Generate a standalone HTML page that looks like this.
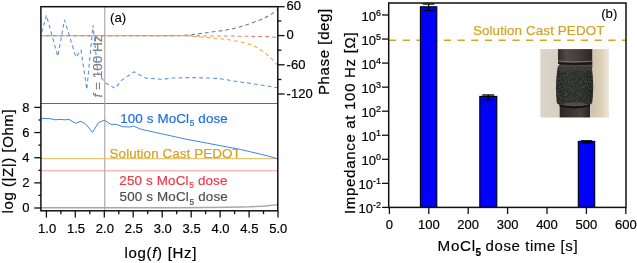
<!DOCTYPE html>
<html><head><meta charset="utf-8">
<style>
html,body{margin:0;padding:0;background:#fff;width:637px;height:263px;overflow:hidden;}
svg{display:block;-webkit-font-smoothing:antialiased;will-change:transform;font-family:"Liberation Sans",sans-serif;}
</style></head>
<body>
<svg width="637" height="263" viewBox="0 0 637 263">
<rect x="0" y="0" width="637" height="263" fill="#fff"/>

<!-- ===== LEFT CHART ===== -->
<!-- separator + f=100Hz line -->
<line x1="41" y1="103.5" x2="278" y2="103.5" stroke="#6a6a6a" stroke-width="1"/>
<line x1="104.8" y1="6.7" x2="104.8" y2="210.8" stroke="#9a9a9a" stroke-width="1"/>

<!-- top panel phase curves -->
<g fill="none" stroke-width="1.05" stroke-dasharray="3.8 3.1">
  <path d="M41.0,35.7 C59.2,35.7 126.0,35.8 150.0,35.7 C174.0,35.6 176.7,35.6 185.0,35.3 C193.3,34.9 195.0,34.2 200.0,33.6 C205.0,33.0 210.0,32.3 215.0,31.6 C220.0,30.9 225.0,30.4 230.0,29.4 C235.0,28.3 240.0,26.9 245.0,25.3 C250.0,23.7 255.8,21.6 260.0,19.9 C264.2,18.2 267.0,16.8 270.0,15.0 C273.0,13.2 276.7,10.2 278.0,9.3" stroke="#777" stroke-dashoffset="1.6"/>
  <path d="M41.0,35.7 C59.2,35.7 126.0,35.7 150.0,35.7 C174.0,35.7 176.7,35.7 185.0,35.9 C193.3,36.1 195.0,36.6 200.0,37.0 C205.0,37.4 210.0,37.8 215.0,38.3 C220.0,38.8 225.0,39.2 230.0,40.0 C235.0,40.8 240.8,41.8 245.0,42.9 C249.2,44.0 252.2,45.2 255.0,46.5 C257.8,47.8 259.8,49.3 262.0,50.8 C264.2,52.3 266.2,53.9 268.0,55.5 C269.8,57.1 271.3,58.5 273.0,60.2 C274.7,61.9 277.2,64.6 278.0,65.5" stroke="#e0b038"/>
  <path d="M41,35.7 L185,35.8 L232,36.1 L265,36.6 L278,37.5" stroke="#f27a82" stroke-dashoffset="3.45"/>
  <path d="M41.8,32.4 L46.4,15.3 L57.8,56.4 L64.5,19.9 L76,57.3 L81,50.2 L86.8,89.5 L93,25.1 L98,74 L105.8,83.2 L115.3,88.4 L121.2,80.6 L134.2,71.8 L145.4,78.1 L163.4,79.3 L171.9,78.1 L190,77.6 L210,78 Q222,78.6 230,80.4 L250,83.3 L265,85.6 L278,87.8" stroke="#4f8fe6"/>
</g>

<!-- bottom panel |Z| curves -->
<g fill="none" stroke-width="1.0">
  <path d="M41,207.8 L180,207.7 L230,207.3 L250,206.8 L265,206 L278,204.6" stroke="#a8a8a8" stroke-width="1.4"/>
  <path d="M41,170.8 L278,170.8" stroke="#f49aa0"/>
  <path d="M41,158.7 L278,158.7" stroke="#e2bc50"/>
  <path d="M41.5,118.4 L50,118.7 L55,119.8 L60,119.4 L65,119.8 L69,119.4 L75.7,123.3 L80.8,121.3 L85.6,124 L92.5,132.4 L98.6,122.5 L104.6,120.2 L110.7,124.3 L116.8,124.4 L122.2,126.7 L129.8,127 L133.6,126 L140.4,129 L155.6,132.5 L170.8,135.8 L186,139.2 L200,141.8 L220,145.6 L240,149.4 L260,154 L270,156.6 L278,158.9" stroke="#3f86e4"/>
</g>

<!-- frame -->
<rect x="40.9" y="6.7" width="236.9" height="204.1" fill="none" stroke="#111" stroke-width="1.5"/>

<!-- left y ticks (bottom panel) -->
<g stroke="#111" stroke-width="1.3">
  <line x1="34.3" y1="208" x2="41" y2="208"/>
  <line x1="34.3" y1="182.85" x2="41" y2="182.85"/>
  <line x1="34.3" y1="157.7" x2="41" y2="157.7"/>
  <line x1="34.3" y1="132.55" x2="41" y2="132.55"/>
  <line x1="34.3" y1="107.4" x2="41" y2="107.4"/>
  <line x1="38.4" y1="195.4" x2="41" y2="195.4"/>
  <line x1="38.4" y1="170.3" x2="41" y2="170.3"/>
  <line x1="38.4" y1="145.1" x2="41" y2="145.1"/>
  <line x1="38.4" y1="120" x2="41" y2="120"/>
</g>
<!-- right y ticks (top panel) -->
<g stroke="#111" stroke-width="1.3">
  <line x1="278" y1="6.7" x2="284.6" y2="6.7"/>
  <line x1="278" y1="35.6" x2="284.6" y2="35.6"/>
  <line x1="278" y1="64.8" x2="284.6" y2="64.8"/>
  <line x1="278" y1="94" x2="284.6" y2="94"/>
  <line x1="278" y1="21" x2="281.4" y2="21"/>
  <line x1="278" y1="50.2" x2="281.4" y2="50.2"/>
  <line x1="278" y1="79.5" x2="281.4" y2="79.5"/>
</g>
<!-- bottom x ticks -->
<g stroke="#111" stroke-width="1.3">
  <line x1="46.4" y1="210.8" x2="46.4" y2="217.6"/>
  <line x1="60.9" y1="210.8" x2="60.9" y2="214.2"/>
  <line x1="75.3" y1="210.8" x2="75.3" y2="217.6"/>
  <line x1="89.8" y1="210.8" x2="89.8" y2="214.2"/>
  <line x1="104.3" y1="210.8" x2="104.3" y2="217.6"/>
  <line x1="118.8" y1="210.8" x2="118.8" y2="214.2"/>
  <line x1="133.2" y1="210.8" x2="133.2" y2="217.6"/>
  <line x1="147.7" y1="210.8" x2="147.7" y2="214.2"/>
  <line x1="162.2" y1="210.8" x2="162.2" y2="217.6"/>
  <line x1="176.7" y1="210.8" x2="176.7" y2="214.2"/>
  <line x1="191.2" y1="210.8" x2="191.2" y2="217.6"/>
  <line x1="205.6" y1="210.8" x2="205.6" y2="214.2"/>
  <line x1="220.1" y1="210.8" x2="220.1" y2="217.6"/>
  <line x1="234.6" y1="210.8" x2="234.6" y2="214.2"/>
  <line x1="249.1" y1="210.8" x2="249.1" y2="217.6"/>
  <line x1="263.5" y1="210.8" x2="263.5" y2="214.2"/>
  <line x1="278.0" y1="210.8" x2="278.0" y2="217.6"/>
</g>

<!-- left tick labels -->
<g font-size="13" fill="#000" text-anchor="end" stroke="#000" stroke-width="0.2">
  <text x="29.4" y="212.3">0</text>
  <text x="29.4" y="187.15">2</text>
  <text x="29.4" y="162">4</text>
  <text x="29.4" y="136.85">6</text>
  <text x="29.4" y="111.7">8</text>
</g>
<g font-size="13" fill="#000" text-anchor="start" stroke="#000" stroke-width="0.2">
  <text x="286.6" y="10.4">60</text>
  <text x="286.6" y="39.3">0</text>
  <text x="286.6" y="68.9">-60</text>
  <text x="286.6" y="98.1">-120</text>
</g>
<g font-size="13" fill="#000" text-anchor="middle" stroke="#000" stroke-width="0.2">
  <text x="47.1" y="233.3">1.0</text>
  <text x="76" y="233.3">1.5</text>
  <text x="104.9" y="233.3">2.0</text>
  <text x="133.8" y="233.3">2.5</text>
  <text x="162.7" y="233.3">3.0</text>
  <text x="191.6" y="233.3">3.5</text>
  <text x="220.5" y="233.3">4.0</text>
  <text x="249.4" y="233.3">4.5</text>
  <text x="278.3" y="233.3">5.0</text>
</g>

<!-- axis titles -->
<text x="124.4" y="258.4" font-size="15" fill="#000" textLength="72" lengthAdjust="spacing" stroke="#000" stroke-width="0.2">log(<tspan font-style="italic">f</tspan>) [Hz]</text>
<text transform="translate(13.1,213.4) rotate(-90)" font-size="15" fill="#000" textLength="104" lengthAdjust="spacing" stroke="#000" stroke-width="0.2">log (|Z|) [Ohm]</text>
<text transform="translate(328.6,95) rotate(-90)" font-size="15" fill="#000" textLength="86.2" lengthAdjust="spacing" stroke="#000" stroke-width="0.2">Phase [deg]</text>
<text transform="translate(101.5,66.5) rotate(-90)" font-size="13.5" fill="#808080" text-anchor="middle" stroke="#808080" stroke-width="0.2"><tspan font-style="italic">f</tspan> = 100 Hz</text>

<!-- annotations -->
<text x="110.1" y="22" font-size="13.2" fill="#000" stroke="#000" stroke-width="0.1">(a)</text>
<text x="120.2" y="123.2" font-size="13.4" fill="#1f6fe0" letter-spacing="0.12" stroke="#1f6fe0" stroke-width="0.2">100 s MoCl<tspan font-size="8.3" dy="3.2" dx="0.6">5</tspan><tspan dy="-3.2"> dose</tspan></text>
<text x="109.6" y="158" font-size="13.4" fill="#d4a020" textLength="131" lengthAdjust="spacing" stroke="#d4a020" stroke-width="0.2">Solution Cast PEDOT</text>
<text x="119.3" y="184.7" font-size="13.4" fill="#f03848" letter-spacing="0.16" stroke="#f03848" stroke-width="0.2">250 s MoCl<tspan font-size="8.3" dy="3.2" dx="0.6">5</tspan><tspan dy="-3.2"> dose</tspan></text>
<text x="119.6" y="201.4" font-size="13.4" fill="#505050" letter-spacing="0.16" stroke="#505050" stroke-width="0.2">500 s MoCl<tspan font-size="8.3" dy="3.2" dx="0.6">5</tspan><tspan dy="-3.2"> dose</tspan></text>

<!-- ===== RIGHT CHART ===== -->
<line x1="389" y1="40.3" x2="626" y2="40.3" stroke="#daa520" stroke-width="1.6" stroke-dasharray="7.2 6.5"/>
<text x="472.9" y="35.1" font-size="13.4" fill="#d4a020" textLength="131.5" lengthAdjust="spacing" stroke="#d4a020" stroke-width="0.2">Solution Cast PEDOT</text>
<text x="601.2" y="18" font-size="13.2" fill="#000" stroke="#000" stroke-width="0.1">(b)</text>

<!-- photo -->
<defs>
  <linearGradient id="pbg" x1="540.3" x2="608.9" y1="0" y2="0" gradientUnits="userSpaceOnUse">
    <stop offset="0" stop-color="#dcd6ca"/>
    <stop offset="0.24" stop-color="#d6cfc2"/>
    <stop offset="0.76" stop-color="#d2c4ac"/>
    <stop offset="0.88" stop-color="#dbcfb9"/>
    <stop offset="0.95" stop-color="#e6ddcc"/>
    <stop offset="1" stop-color="#ece6da"/>
  </linearGradient>
  <linearGradient id="rod" x1="558" x2="592.2" y1="0" y2="0" gradientUnits="userSpaceOnUse">
    <stop offset="0" stop-color="#302b2a"/>
    <stop offset="0.25" stop-color="#524a48"/>
    <stop offset="0.6" stop-color="#443d3b"/>
    <stop offset="1" stop-color="#2a2625"/>
  </linearGradient>
  <linearGradient id="rod2" x1="559.7" x2="590" y1="0" y2="0" gradientUnits="userSpaceOnUse">
    <stop offset="0" stop-color="#2a2626"/>
    <stop offset="0.4" stop-color="#3e3634"/>
    <stop offset="0.7" stop-color="#48403e"/>
    <stop offset="1" stop-color="#282424"/>
  </linearGradient>
  <linearGradient id="slv" x1="556.4" x2="592.8" y1="0" y2="0" gradientUnits="userSpaceOnUse">
    <stop offset="0" stop-color="#222523"/>
    <stop offset="0.3" stop-color="#2d302d"/>
    <stop offset="0.7" stop-color="#2a2d2a"/>
    <stop offset="1" stop-color="#1e211f"/>
  </linearGradient>
  <filter id="tex" x="0" y="0" width="1" height="1">
    <feTurbulence type="fractalNoise" baseFrequency="0.6" numOctaves="2" seed="5" result="n"/>
    <feColorMatrix in="n" type="matrix" values="0 0 0 0 0.22  0 0 0 0 0.24  0 0 0 0 0.22  0 0 0 0.6 -0.26" result="spk"/>
    <feComposite in="spk" in2="SourceGraphic" operator="in" result="s2"/>
    <feMerge><feMergeNode in="SourceGraphic"/><feMergeNode in="s2"/></feMerge>
  </filter>
</defs>
<rect x="540.3" y="49.1" width="68.6" height="68.4" fill="url(#pbg)"/>
<rect x="558" y="49.1" width="34.2" height="19" fill="url(#rod)"/>
<path d="M558,61.2 Q575,62.6 592.2,61.2" stroke="#7a706c" stroke-width="1" fill="none"/>
<path d="M558,63.2 Q575,64.8 592.2,63.2" stroke="#1a1616" stroke-width="2" fill="none"/>
<rect x="558" y="65" width="34.2" height="2.5" fill="#4d4442"/>
<rect x="559.7" y="100" width="30.3" height="17.4" fill="url(#rod2)"/>
<rect x="559.7" y="100" width="30.3" height="6" fill="#594a46"/>
<path d="M557.6,67.4 Q574.6,66.2 591.8,67.4 Q594.4,85 592.2,102.5 Q591.6,104.6 589.5,104.7 Q574.6,99.8 559.6,104.7 Q557.2,104.6 556.8,102.5 Q554.8,85 557.6,67.4 Z" fill="url(#slv)" filter="url(#tex)"/>
<path d="M557.6,67.4 Q574.6,66.2 591.8,67.4 L592.4,71 Q574.6,70 556.9,71 Z" fill="#4a4e4a" opacity="0.45"/>
<path d="M559.6,105.4 Q574.8,109.6 590,105.4" stroke="#141111" stroke-width="1.9" fill="none"/>
<circle cx="558.6" cy="64.6" r="0.8" fill="#e8e4dc"/>
<!-- bars -->
<g stroke="#000" stroke-width="1.1" fill="#0000ff">
  <rect x="420.4" y="6.8" width="16.4" height="200.6"/>
  <rect x="479.8" y="96.4" width="17" height="111"/>
  <rect x="578.3" y="141.4" width="16.4" height="66"/>
</g>
<!-- error bars -->
<g stroke="#000" stroke-width="1.3">
  <line x1="428.6" y1="4" x2="428.6" y2="10.5"/>
  <line x1="422.8" y1="4" x2="434.4" y2="4"/>
  <line x1="422.8" y1="10.5" x2="434.4" y2="10.5"/>
  <line x1="488.3" y1="95" x2="488.3" y2="99.8"/>
  <line x1="482.2" y1="95" x2="494.2" y2="95"/>
  <line x1="482.2" y1="99.8" x2="494.2" y2="99.8"/>
  <line x1="586.5" y1="140.6" x2="586.5" y2="143.2"/>
  <line x1="580.8" y1="140.8" x2="592.2" y2="140.8"/>
  <line x1="580.8" y1="143" x2="592.2" y2="143"/>
</g>

<!-- right frame -->
<rect x="388.7" y="3" width="237.3" height="204.4" fill="none" stroke="#111" stroke-width="1.5"/>
<g stroke="#111" stroke-width="1.3">
  <line x1="382" y1="15" x2="389" y2="15"/>
  <line x1="382" y1="39.05" x2="389" y2="39.05"/>
  <line x1="382" y1="63.1" x2="389" y2="63.1"/>
  <line x1="382" y1="87.15" x2="389" y2="87.15"/>
  <line x1="382" y1="111.2" x2="389" y2="111.2"/>
  <line x1="382" y1="135.25" x2="389" y2="135.25"/>
  <line x1="382" y1="159.3" x2="389" y2="159.3"/>
  <line x1="382" y1="183.35" x2="389" y2="183.35"/>
  <line x1="382" y1="207.4" x2="389" y2="207.4"/>
  <line x1="389.4" y1="207.4" x2="389.4" y2="214"/>
  <line x1="428.8" y1="207.4" x2="428.8" y2="214"/>
  <line x1="468.2" y1="207.4" x2="468.2" y2="214"/>
  <line x1="507.6" y1="207.4" x2="507.6" y2="214"/>
  <line x1="547" y1="207.4" x2="547" y2="214"/>
  <line x1="586.4" y1="207.4" x2="586.4" y2="214"/>
  <line x1="625.8" y1="207.4" x2="625.8" y2="214"/>
</g>
<g font-size="13" fill="#000" text-anchor="end" stroke="#000" stroke-width="0.2">
  <text x="381" y="20.70">10<tspan font-size="9" dy="-5.2">6</tspan></text>
  <text x="381" y="44.75">10<tspan font-size="9" dy="-5.2">5</tspan></text>
  <text x="381" y="68.80">10<tspan font-size="9" dy="-5.2">4</tspan></text>
  <text x="381" y="92.85">10<tspan font-size="9" dy="-5.2">3</tspan></text>
  <text x="381" y="116.90">10<tspan font-size="9" dy="-5.2">2</tspan></text>
  <text x="381" y="140.95">10<tspan font-size="9" dy="-5.2">1</tspan></text>
  <text x="381" y="165.00">10<tspan font-size="9" dy="-5.2">0</tspan></text>
  <text x="381" y="189.05">10<tspan font-size="9" dy="-5.2">-1</tspan></text>
  <text x="381" y="213.10">10<tspan font-size="9" dy="-5.2">-2</tspan></text>
</g>
<g font-size="13" fill="#000" text-anchor="middle" stroke="#000" stroke-width="0.2">
  <text x="389.4" y="228.7">0</text>
  <text x="428.8" y="228.7">100</text>
  <text x="468.2" y="228.7">200</text>
  <text x="507.6" y="228.7">300</text>
  <text x="547" y="228.7">400</text>
  <text x="586.4" y="228.7">500</text>
  <text x="625.8" y="228.7">600</text>
</g>
<g fill="#000" stroke="#000" stroke-width="0.15">
<text x="437.6" y="250.9" font-size="15.2" textLength="37.4" lengthAdjust="spacing">MoCl</text>
<text x="475.4" y="256" font-size="10" font-weight="bold" stroke-width="0.2">5</text>
<text x="485.6" y="250.9" font-size="15" textLength="92" lengthAdjust="spacing">dose time [s]</text>
</g>
<text transform="translate(354.5,214) rotate(-90)" font-size="15" fill="#000" textLength="181.6" lengthAdjust="spacing" stroke="#000" stroke-width="0.2">Impedance at 100 Hz [Ω]</text>

</svg>
</body></html>
